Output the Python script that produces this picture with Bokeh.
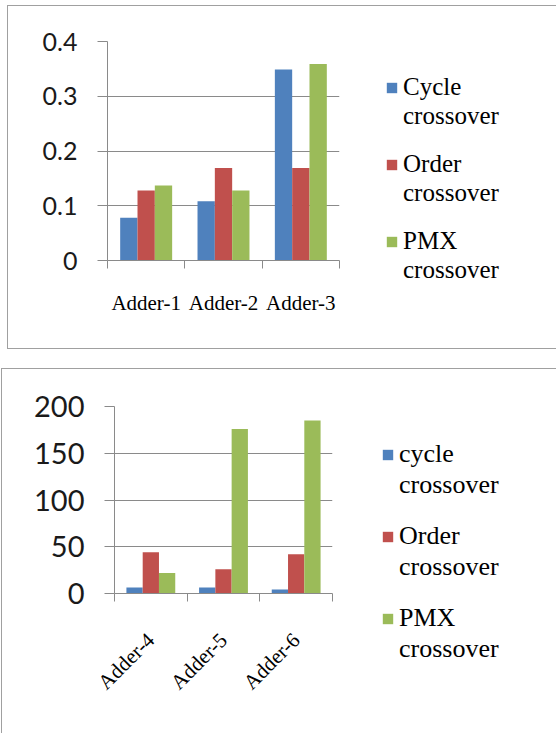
import math
from bokeh.plotting import figure
from bokeh.models import ColumnDataSource, FixedTicker, Legend, LegendItem, Range1d
from bokeh.layouts import column, row
from bokeh.transform import dodge
from bokeh.embed import file_html
from bokeh.resources import INLINE

# ---------------- data ----------------
top_categories = ["Adder-1", "Adder-2", "Adder-3"]
top_cycle = [0.078, 0.108, 0.349]
top_order = [0.128, 0.169, 0.169]
top_pmx = [0.137, 0.128, 0.359]
top_series_names = ["Cycle", "Order", "PMX"]
top_series_suffix = ["crossover", "crossover", "crossover"]
top_yticks = [0, 0.1, 0.2, 0.3, 0.4]
top_ytick_labels = ["0", "0.1", "0.2", "0.3", "0.4"]

bottom_categories = ["Adder-4", "Adder-5", "Adder-6"]
bottom_cycle = [6.4, 6.4, 4.3]
bottom_order = [44, 26, 42]
bottom_pmx = [22, 176, 185]
bottom_series_names = ["cycle", "Order", "PMX"]
bottom_series_suffix = ["crossover", "crossover", "crossover"]
bottom_yticks = [0, 50, 100, 150, 200]
bottom_ytick_labels = ["0", "50", "100", "150", "200"]

colors = ["#4F81BD", "#C0504D", "#9BBB59"]
GRID = "#8a8a8a"
BORDER = "#a0a0a0"
BAR_W = 0.224


def add_bars(p, src, visible=True):
    rends = []
    for k, key in enumerate(["s0", "s1", "s2"]):
        r = p.vbar(x=dodge("x", (k - 1) * BAR_W), top=key, bottom=0, width=BAR_W,
                   source=src, fill_color=colors[k], line_color=None, visible=visible)
        rends.append(r)
    return rends


def make_legend(items, loc, spacing, size):
    return Legend(items=items, location=loc, orientation="vertical",
                  padding=0, margin=0, spacing=spacing,
                  glyph_width=13, glyph_height=13, label_standoff=5,
                  label_text_font="Liberation Serif", label_text_font_size=size,
                  label_text_color="black", inactive_fill_alpha=0,
                  border_line_color=None, background_fill_alpha=0)


def make_chart(cats, series, names, suffix, yticks, ytick_labels, chart_w, legend_w, height,
               borders, ytick_size, legend_size, legend_x, legend_y1, legend_y2,
               legend_spacing, xlabel_orient, xlabel_standoff, styles, margin):
    n = len(cats)
    centers = [i + 0.5 for i in range(n)]
    src = ColumnDataSource(dict(x=centers, s0=series[0], s1=series[1], s2=series[2]))
    p = figure(width=chart_w, height=height,
               x_range=Range1d(0, n), y_range=Range1d(yticks[0], yticks[-1]),
               output_backend="svg", toolbar_location=None,
               min_border_left=borders[0], min_border_right=borders[1],
               min_border_top=borders[2], min_border_bottom=borders[3],
               outline_line_color=None, background_fill_color="white",
               border_fill_color="white")
    add_bars(p, src)

    # x axis: labels at centers, tick marks at boundaries
    xa = p.xaxis[0]
    xa.ticker = FixedTicker(ticks=centers, minor_ticks=list(range(n + 1)))
    xa.major_label_overrides = {c: cat for c, cat in zip(centers, cats)}
    xa.major_tick_out = 0
    xa.major_tick_in = 0
    xa.minor_tick_out = 8
    xa.minor_tick_in = 0
    xa.minor_tick_line_color = GRID
    xa.axis_line_color = GRID
    xa.major_label_text_font = "Liberation Serif"
    xa.major_label_text_font_size = "21px"
    xa.major_label_text_color = "black"
    xa.major_label_standoff = xlabel_standoff
    if xlabel_orient:
        xa.major_label_orientation = xlabel_orient

    ya = p.yaxis[0]
    ya.ticker = FixedTicker(ticks=yticks)
    ya.major_label_overrides = {t: s for t, s in zip(yticks, ytick_labels)}
    ya.major_tick_out = 10
    ya.major_tick_in = 0
    ya.minor_tick_out = 0
    ya.minor_tick_in = 0
    ya.major_tick_line_color = GRID
    ya.axis_line_color = GRID
    ya.major_label_text_font = "Lato"
    ya.major_label_text_font_size = ytick_size
    ya.major_label_text_color = "#1a1a1a"
    ya.major_label_standoff = 20

    p.xgrid.visible = False
    p.ygrid.ticker = FixedTicker(ticks=yticks)
    p.ygrid.grid_line_color = GRID
    p.ygrid.grid_line_width = 1

    # legend panel: a separate plot whose frame only holds the legend
    lg = figure(width=legend_w, height=height, x_range=Range1d(0, n),
                y_range=Range1d(1e6, 1e6 + 1), output_backend="svg", toolbar_location=None,
                x_axis_location=None, y_axis_location=None,
                min_border_left=0, min_border_right=0, min_border_top=0, min_border_bottom=0,
                outline_line_color=None, background_fill_color="white",
                border_fill_color="white")
    lg.frame_align = False
    lg.grid.visible = False
    lrends = add_bars(lg, src, visible=False)
    first = make_legend([LegendItem(label=nm, renderers=[r]) for nm, r in zip(names, lrends)],
                        (legend_x, legend_y1), legend_spacing, legend_size)
    second = make_legend([LegendItem(label=sf, renderers=[]) for sf in suffix],
                         (legend_x, legend_y2), legend_spacing, legend_size)
    lg.add_layout(first)
    lg.add_layout(second)
    return row(p, lg, spacing=0, styles=styles, margin=margin)


c1 = make_chart(top_categories, [top_cycle, top_order, top_pmx],
                top_series_names, top_series_suffix,
                top_yticks, top_ytick_labels, chart_w=351, legend_w=198, height=342,
                borders=(99, 20, 35, 88),
                ytick_size="25px", legend_size="25px", legend_x=26,
                legend_y1=93, legend_y2=64, legend_spacing=49,
                xlabel_orient=None, xlabel_standoff=22,
                styles={"box-shadow": f"-1px -1px 0 0 {BORDER}, -1px 1px 0 0 {BORDER}"},
                margin=(6, 0, 0, 8))

c2 = make_chart(bottom_categories, [bottom_cycle, bottom_order, bottom_pmx],
                bottom_series_names, bottom_series_suffix,
                bottom_yticks, bottom_ytick_labels, chart_w=350, legend_w=205, height=365,
                borders=(112, 20, 37, 141),
                ytick_size="29px", legend_size="26px", legend_x=29,
                legend_y1=101, legend_y2=70, legend_spacing=52,
                xlabel_orient=math.pi / 4, xlabel_standoff=35,
                styles={"box-shadow": f"-1px -1px 0 0 {BORDER}"}, margin=(21, 0, 0, 2))

layout = column(c1, c2, spacing=0)
open("out.html", "w").write(file_html(layout, INLINE))
